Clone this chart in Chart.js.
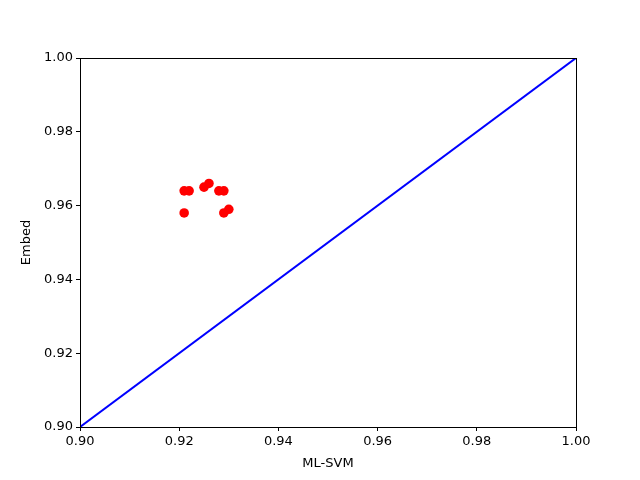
<!DOCTYPE html>
<html>
<head>
<meta charset="utf-8">
<script src="https://cdn.jsdelivr.net/npm/chart.js@4"></script>
<style>
  html, body { margin: 0; padding: 0; background: #fff; }
  #wrap { width: 640px; height: 480px; }
</style>
</head>
<body>
<div id="wrap"><canvas id="chart" width="640" height="480"></canvas></div>
<script>
// scores per run: ML-SVM vs Embed
const mlSvm = [0.921, 0.922, 0.925, 0.926, 0.928, 0.929, 0.921, 0.929, 0.930];
const embed = [0.964, 0.964, 0.965, 0.966, 0.964, 0.964, 0.958, 0.958, 0.959];
const diagX = [0.90, 1.00];
const diagY = [0.90, 1.00];
const xTicks = [0.90, 0.92, 0.94, 0.96, 0.98, 1.00];
const yTicks = [0.90, 0.92, 0.94, 0.96, 0.98, 1.00];

const font = { family: "DejaVu Sans", size: 13 };

const frame = {
  id: "frame",
  afterDraw(chart) {
    const a = chart.chartArea;
    const ctx = chart.ctx;
    ctx.save();
    ctx.strokeStyle = "#000";
    ctx.lineWidth = 1;
    ctx.strokeRect(a.left + 0.5, a.top + 0.5, a.right - a.left, a.bottom - a.top);
    ctx.restore();
  }
};

new Chart(document.getElementById("chart"), {
  type: "scatter",
  data: {
    datasets: [
      {
        data: diagX.map((x, i) => ({ x: x, y: diagY[i] })),
        showLine: true,
        borderColor: "#0000ff",
        borderWidth: 2,
        pointRadius: 0,
        order: 2
      },
      {
        data: mlSvm.map((x, i) => ({ x: x, y: embed[i] })),
        backgroundColor: "#ff0000",
        borderColor: "#ff0000",
        borderWidth: 0,
        pointRadius: 4.8,
        order: 1
      }
    ]
  },
  plugins: [frame],
  options: {
    responsive: false,
    animation: false,
    layout: { padding: { top: 58, right: 64, left: 0, bottom: 0 } },
    plugins: { legend: { display: false }, tooltip: { enabled: false } },
    scales: {
      x: {
        min: 0.90, max: 1.00,
        afterFit: (s) => { s.height = 53; },
        afterBuildTicks: (s) => { s.ticks = xTicks.map(v => ({ value: v })); },
        ticks: { color: "#000", font: font, padding: 3, maxRotation: 0,
                 callback: (v) => v.toFixed(2) },
        grid: { drawOnChartArea: false, drawTicks: true, tickLength: 4, color: "#000" },
        border: { display: false },
        title: { display: true, text: "ML-SVM", color: "#000", font: font, padding: { top: 4, bottom: 9 } }
      },
      y: {
        min: 0.90, max: 1.00,
        afterFit: (s) => { s.width = 80; },
        afterBuildTicks: (s) => { s.ticks = yTicks.map(v => ({ value: v })); },
        ticks: { color: "#000", font: font, padding: 3,
                 callback: (v) => v.toFixed(2) },
        grid: { drawOnChartArea: false, drawTicks: true, tickLength: 4, color: "#000" },
        border: { display: false },
        title: { display: true, text: "Embed", color: "#000", font: font, padding: { top: 19 } }
      }
    }
  }
});
</script>
</body>
</html>
